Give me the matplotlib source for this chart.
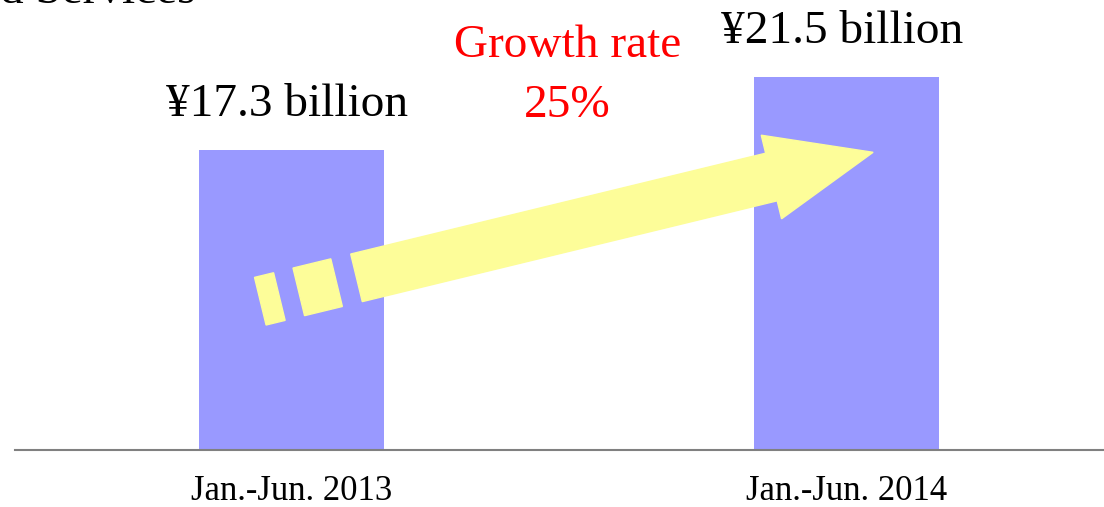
import numpy as np
import matplotlib.pyplot as plt
from matplotlib.patches import Polygon

plt.rcParams['font.family'] = ['Liberation Serif', 'DejaVu Serif']

periods = ["Jan.-Jun. 2013", "Jan.-Jun. 2014"]
revenue = [17.3, 21.5]
value_labels = ["¥17.3 billion", "¥21.5 billion"]

W, H = 1104, 507
fig = plt.figure(figsize=(W / 100, H / 100), dpi=100)

ax = fig.add_axes([15 / W, 57 / H, 1089 / W, 450 / H])

x = np.arange(len(periods))
ax.bar(x, revenue, width=0.333, color="#9999FF", zorder=1)

ax.set_xlim(-0.498, 1.464)
ax.set_ylim(0, 25.95)

for xi, v, lab in zip(x, revenue, value_labels):
    ax.annotate(lab, (xi, v), xytext=(-3, 24.5), textcoords="offset points",
                ha="center", va="baseline", fontsize=34, color="black")

ax.set_xticks(x)
ax.set_xticklabels(periods, fontsize=25)
ax.tick_params(axis="x", length=0, pad=18)
ax.set_yticks([])
for s in ["top", "right", "left"]:
    ax.spines[s].set_visible(False)
ax.spines["bottom"].set_color("#808080")
ax.spines["bottom"].set_linewidth(1.5)

# growth rate annotation, between the bars
fig.text(568 / W, 1 - 57 / H, "Growth rate", ha="center", va="baseline",
         fontsize=34, color="#FF0000")
fig.text(567 / W, 1 - 117 / H, "25%", ha="center", va="baseline",
         fontsize=34, color="#FF0000")

# cut-off title at the top edge
fig.text(196 / W, 1 - 3 / H, "d Services", ha="right", va="baseline",
         fontsize=34, color="black")

# yellow arrow (pixel space, y down)
origin = np.array([260.3, 301.2])
ang = np.arctan2(148.9, 612.8)
u = np.array([np.cos(ang), -np.sin(ang)])
n = np.array([np.sin(ang), np.cos(ang)])
shaft_w = 49
head_w = 86


def px(p):
    return (p[0] / W, 1 - p[1] / H)


def block(a, b):
    pts = [origin + u * a - n * shaft_w / 2, origin + u * b - n * shaft_w / 2,
           origin + u * b + n * shaft_w / 2, origin + u * a + n * shaft_w / 2]
    return [px(p) for p in pts]


arrow_col = "#FDFD99"
for a, b in [(0, 19.6), (39.6, 78.5)]:
    fig.patches.append(Polygon(block(a, b), closed=True, color=arrow_col,
                               transform=fig.transFigure, zorder=3))

shaft_start, head_base, tip = 99, 526, 630.6
arrow_pts = [
    origin + u * shaft_start - n * shaft_w / 2,
    origin + u * head_base - n * shaft_w / 2,
    origin + u * head_base - n * head_w / 2,
    origin + u * tip,
    origin + u * head_base + n * head_w / 2,
    origin + u * head_base + n * shaft_w / 2,
    origin + u * shaft_start + n * shaft_w / 2,
]
fig.patches.append(Polygon([px(p) for p in arrow_pts], closed=True,
                           color=arrow_col, transform=fig.transFigure, zorder=3))

fig.savefig("out.png", dpi=100)
